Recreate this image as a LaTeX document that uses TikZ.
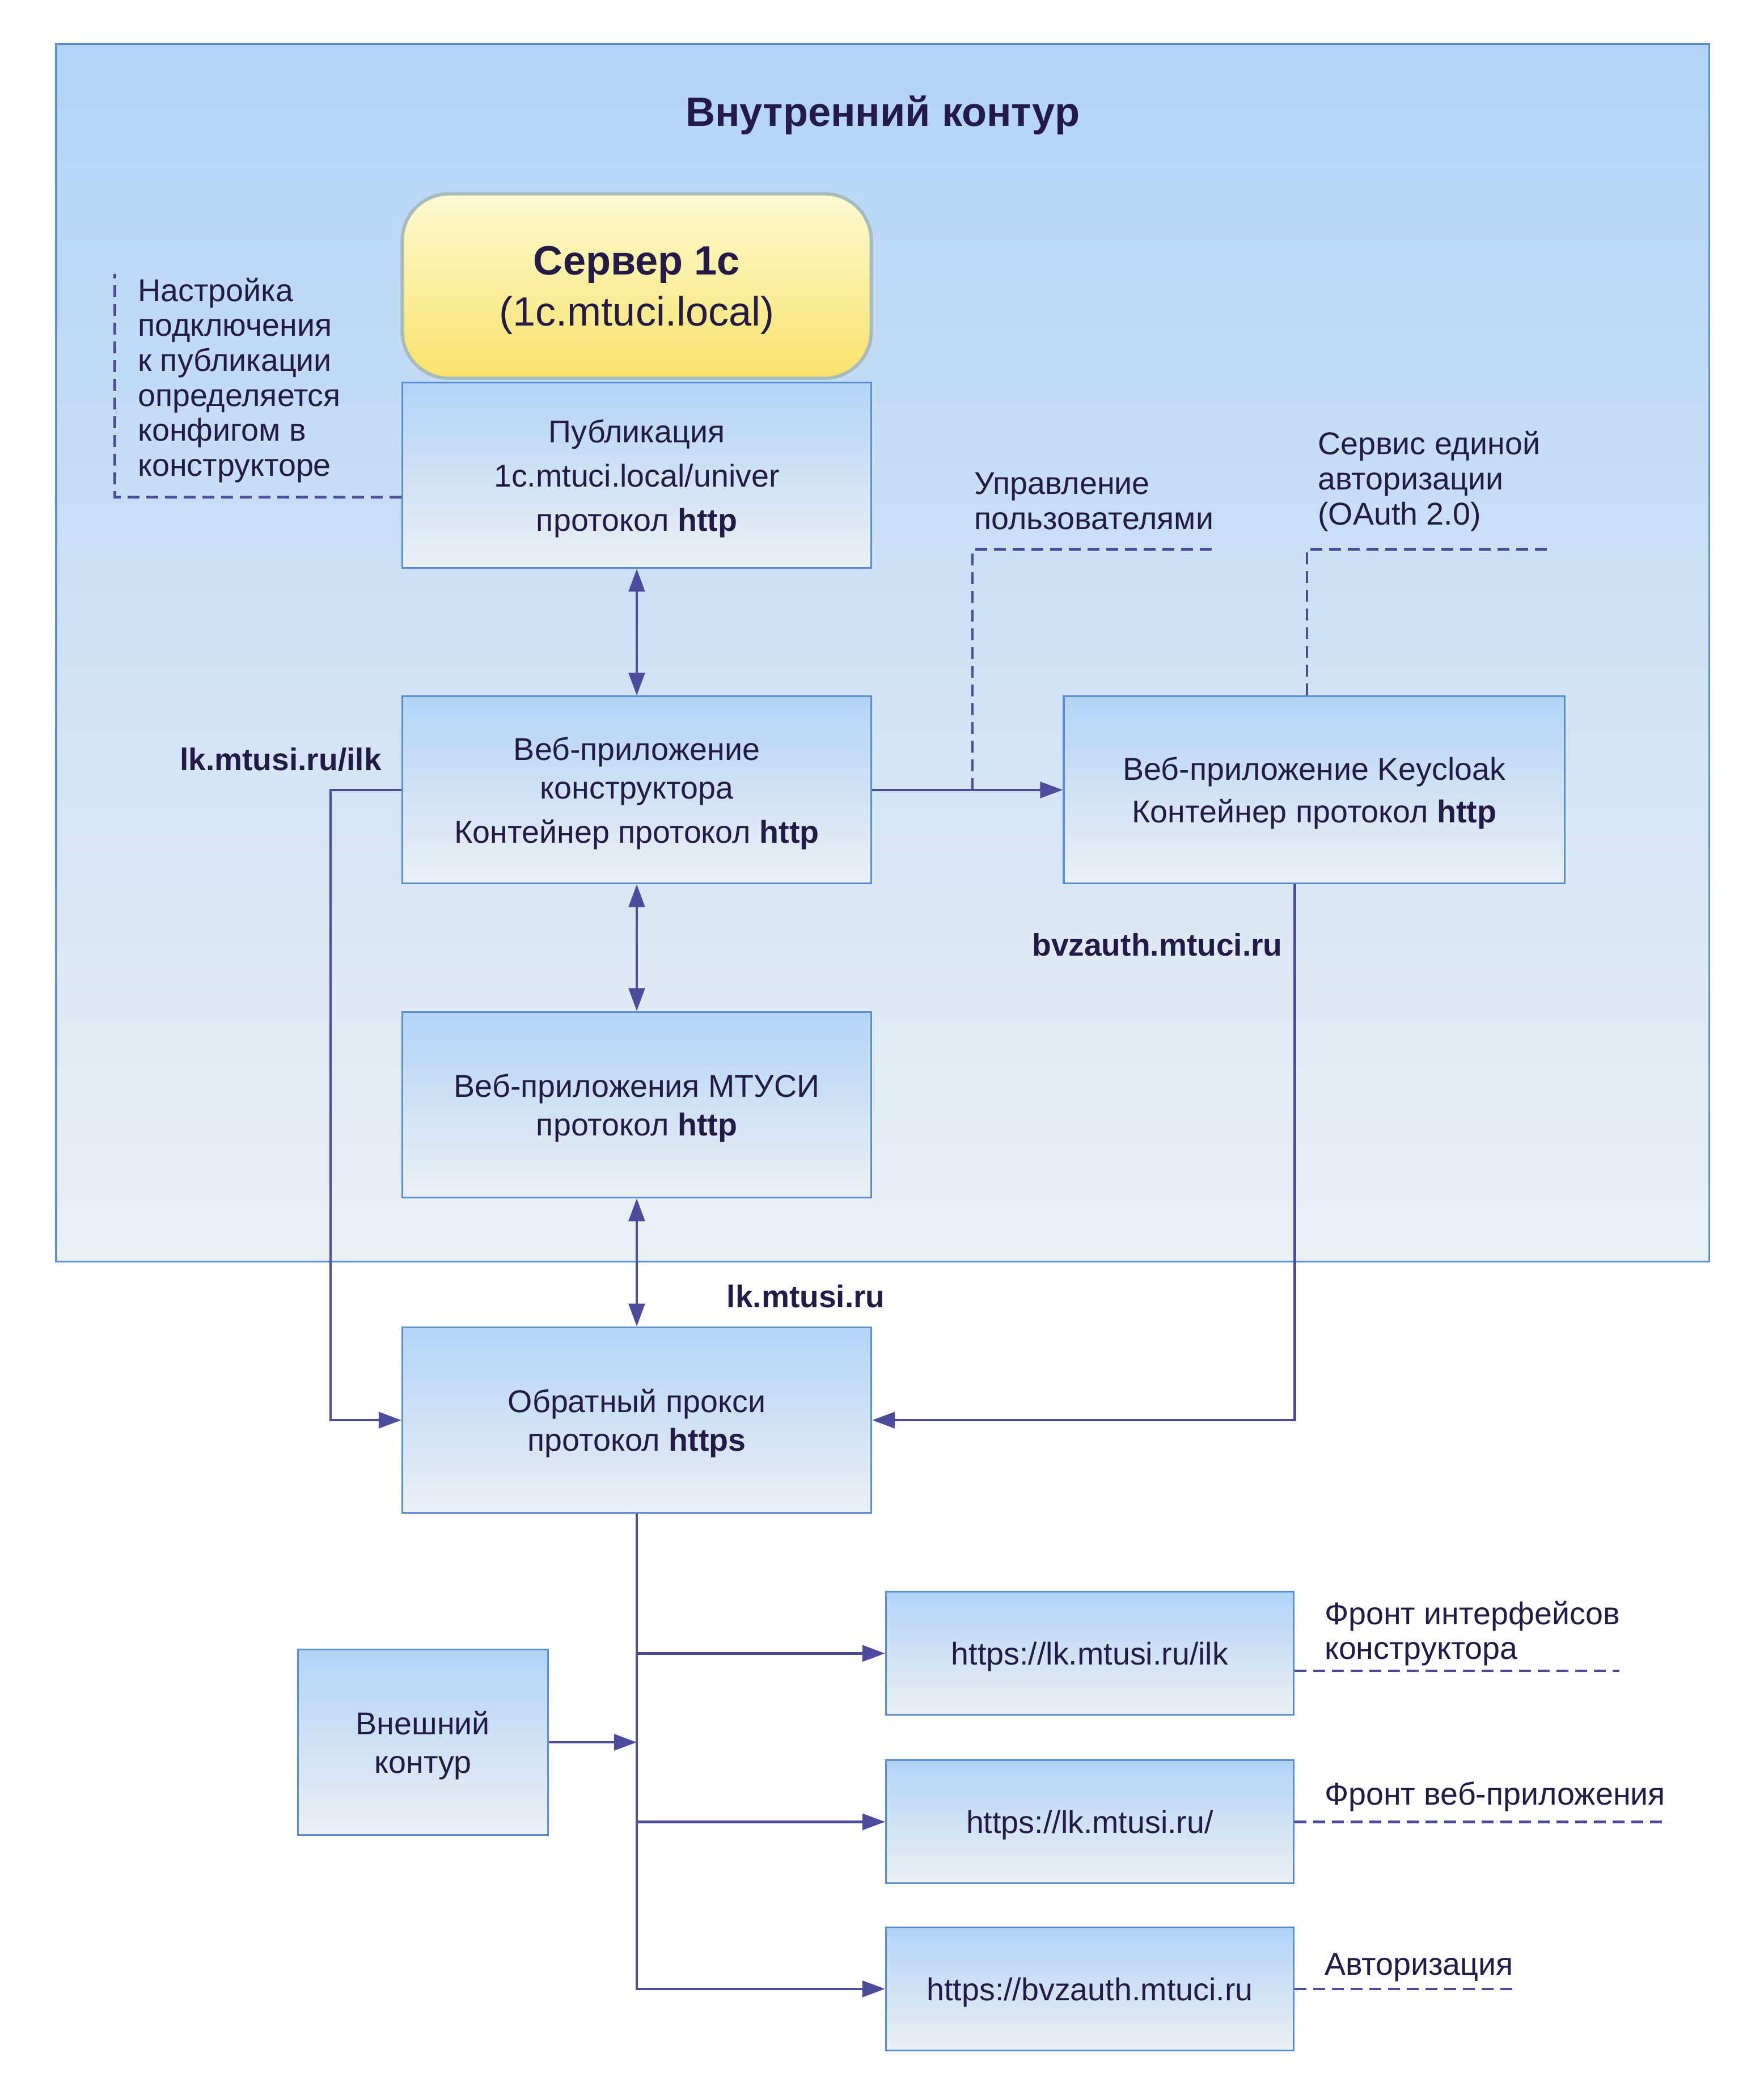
\documentclass[tikz,border=0pt]{standalone}
\usepackage{fontspec}
\setmainfont{Liberation Sans}
\usetikzlibrary{arrows.meta}
\definecolor{ink}{HTML}{231A47}
\definecolor{wire}{HTML}{4D4B9B}
\definecolor{edge}{HTML}{5B8FD5}
\definecolor{paneltop}{HTML}{B3D4F6}
\definecolor{panelbot}{HTML}{EBF0F3}
\definecolor{srvtop}{HTML}{FEFAD2}
\definecolor{srvbot}{HTML}{F8E36A}
\definecolor{srvedge}{HTML}{A8BCBC}

\begin{document}
\begin{tikzpicture}[x = 1pt, y = -1pt, >={Triangle[length = 17pt, width = 12pt]},
	every node/.style = {text = ink, font = \fontsize{23.6}{29}\selectfont},
	box/.style = {draw = edge, line width = 1.3pt, top color = paneltop, bottom color = panelbot,
		minimum width = 351pt, minimum height = 139pt, align = center, inner sep = 0pt, text depth = -1.5pt},
	link/.style = {draw = wire, line width = 2pt},
	hint/.style = {draw = wire, line width = 2pt, dash pattern = on 9pt off 5pt},
	note/.style = {align = left, inner sep = 0pt, anchor = west, font = \fontsize{23.6}{26.2}\selectfont},
	url/.style = {inner sep = 0pt, font = \fontsize{23.4}{29}\selectfont\bfseries}]

\useasboundingbox (0, 0) rectangle (1320, 1567.4);

% inner zone
\draw[edge, line width = 1.3pt, top color = paneltop, bottom color = panelbot] (42, 33) rectangle (1279, 944);
\node[font = \fontsize{30.6}{36}\selectfont\bfseries] (title) at (660.5, 86) {Внутренний контур};

\node[box, draw = srvedge, line width = 2.5pt, top color = srvtop, bottom color = srvbot, rounded corners = 35pt,
	minimum height = 138pt, font = \fontsize{30.6}{38}\selectfont] (srv) at (476.5, 214) {\textbf{Сервер 1с}\\(1c.mtuci.local)};
\node[box] (pub) at (476.5, 355.5) {Публикация\\[4pt]1c.mtuci.local/univer\\[4pt]протокол \textbf{http}};
\node[box, minimum height = 140pt] (ctor) at (476.5, 591) {Веб-приложение\\конструктора\\[4pt]Контейнер протокол \textbf{http}};
\node[box, minimum width = 375pt, minimum height = 140pt] (kc) at (983.5, 591) {Веб-приложение Keycloak\\[3pt]Контейнер протокол \textbf{http}};
\node[box] (mtusi) at (476.5, 826.5) {Веб-приложения МТУСИ\\протокол \textbf{http}};

% outside
\node[box] (proxy) at (476.5, 1062.5) {Обратный прокси\\протокол \textbf{https}};
\node[box, minimum width = 187pt] (ext) at (316.5, 1303.5) {Внешний\\контур};
\node[box, minimum width = 305pt, minimum height = 92pt] (ilk) at (815.5, 1237) {https://lk.mtusi.ru/ilk};
\node[box, minimum width = 305pt, minimum height = 92pt] (web) at (815.5, 1363) {https://lk.mtusi.ru/};
\node[box, minimum width = 305pt, minimum height = 92pt] (auth) at (815.5, 1488) {https://bvzauth.mtuci.ru};

\draw[link, <->] (pub.south) -- (ctor.north);
\draw[link, <->] (ctor.south) -- (mtusi.north);
\draw[link, <->] (mtusi.south) -- (proxy.north);
\draw[link, ->] (ctor.east) -- (kc.west);
\draw[link, ->] (ctor.west) -- ++(-53, 0) |- (proxy.west);
\draw[link, ->] ([xshift = -14.5pt]kc.south) |- (proxy.east);

\draw[link, ->] (proxy.south) |- (auth.west);
\foreach \n in {ilk, web}
	\draw[link, ->] (proxy.south |- \n.west) -- (\n.west);
\draw[link, ->] (ext.east) -- (proxy.south |- ext.east);

\node[url] (ilkurl) at (210, 568) {lk.mtusi.ru/ilk};
\node[url] (kcurl) at (866, 707) {bvzauth.mtuci.ru};
\node[url] (lkurl) at (603, 970) {lk.mtusi.ru};

% notes
\coordinate (cfg) at (86, 205);
\coordinate (users) at (907, 411);
\coordinate (sso) at (1158, 411);
\draw[hint] ([yshift = -16.5pt]pub.west) -| (cfg);
\draw[hint] ([xshift = 75pt]ctor.east) |- (users);
\draw[hint] ([xshift = -5.5pt]kc.north) |- (sso);
\draw[hint] ([yshift = -13pt]ilk.east) -- ++(243, 0);
\draw[hint] (web.east) -- ++(280, 0);
\draw[hint] (auth.east) -- ++(167, 0);

\node[note] (cfgnote) at (103, 284.5) {Настройка\\подключения\\к публикации\\определяется\\конфигом в\\конструкторе};
\node[note] (usernote) at (729, 375) {Управление\\пользователями};
\node[note] (ssonote) at (986, 360) {Сервис единой\\авторизации\\(OAuth 2.0)};
\node[note] (ilknote) at (991, 1222) {Фронт интерфейсов\\конструктора};
\node[note] (webnote) at (991, 1344) {Фронт веб-приложения};
\node[note] (authnote) at (991, 1472) {Авторизация};

\end{tikzpicture}
\end{document}
